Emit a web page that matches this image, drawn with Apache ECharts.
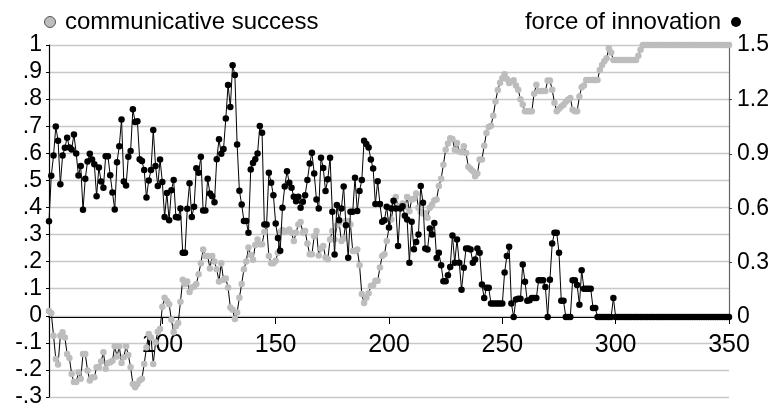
<!DOCTYPE html>
<html><head><meta charset="utf-8">
<script src="https://cdn.jsdelivr.net/npm/echarts@6/dist/echarts.min.js"></script>
<style>html,body{margin:0;padding:0;background:#fff}#c{width:774px;height:410px}</style>
</head><body><div id="c"></div>
<script>
const firstStep = 50;
const seriesNames = ['communicative success', 'force of innovation'];

// communicative success (left axis), steps 50..350
const successValues = [
  0.018, 0.009, -0.074, -0.16, -0.18, -0.074, -0.061, -0.08, -0.141, -0.156,
  -0.215, -0.245, -0.245, -0.209, -0.233, -0.141, -0.141, -0.202, -0.239, -0.227,
  -0.227, -0.19, -0.19, -0.169, -0.135, -0.196, -0.174, -0.172, -0.166, -0.113,
  -0.15, -0.113, -0.174, -0.153, -0.113, -0.145, -0.19, -0.252, -0.264, -0.252,
  -0.239, -0.233, -0.178, -0.117, -0.067, -0.08, -0.178, -0.098, -0.059, -0.049,
  0.033, 0.067, 0.055, 0.043, -0.015, -0.061, -0.039, -0.027, 0.052, 0.133,
  0.117, 0.127, 0.088, 0.104, 0.108, 0.117, 0.153, 0.194, 0.245, 0.221,
  0.221, 0.175, 0.221, 0.2, 0.172, 0.127, 0.194, 0.133, 0.138, 0.104,
  0.031, 0.022, -0.012, 0.012, 0.067, 0.117, 0.172, 0.2, 0.252, 0.224,
  0.207, 0.261, 0.282, 0.264, 0.264, 0.309, 0.334, 0.221, 0.194, 0.194,
  0.203, 0.233,
  0.309, 0.317, 0.309, 0.313, 0.319, 0.307, 0.276, 0.307, 0.337, 0.346,
  0.307, 0.313, 0.267, 0.227, 0.227, 0.294, 0.313, 0.223, 0.248, 0.258,
  0.215, 0.209, 0.282, 0.313, 0.282, 0.334, 0.344, 0.276, 0.285, 0.35,
  0.35, 0.337, 0.239, 0.239, 0.245, 0.187, 0.08, 0.047, 0.067, 0.083,
  0.11, 0.113, 0.129, 0.129, 0.178, 0.221, 0.227, 0.276, 0.325, 0.356,
  0.405, 0.439, 0.405, 0.405, 0.415, 0.402, 0.439, 0.386, 0.429, 0.432,
  0.452, 0.399, 0.383, 0.378, 0.38, 0.362, 0.399, 0.411, 0.427, 0.429,
  0.479, 0.506, 0.558, 0.613, 0.636, 0.656, 0.653, 0.613, 0.638, 0.607,
  0.604, 0.626, 0.601, 0.55, 0.542, 0.534, 0.515, 0.525, 0.577, 0.577,
  0.628, 0.675, 0.697, 0.702, 0.739, 0.791, 0.834, 0.861, 0.877, 0.892,
  0.874, 0.86, 0.865, 0.87, 0.85, 0.835, 0.8, 0.78, 0.755, 0.755,
  0.755, 0.755, 0.82, 0.853, 0.83, 0.83, 0.83, 0.83, 0.869, 0.869,
  0.835, 0.787, 0.755, 0.765, 0.773, 0.779, 0.79, 0.798, 0.804, 0.761,
  0.755, 0.755, 0.81, 0.844, 0.85, 0.871, 0.871, 0.871, 0.871, 0.871,
  0.871, 0.908, 0.926, 0.94, 0.951, 0.988, 0.972, 0.945, 0.945, 0.945,
  0.945, 0.945, 0.945, 0.945, 0.945, 0.945, 0.945, 0.945, 0.96, 0.982,
  1, 1, 1, 1, 1, 1, 1, 1, 1, 1,
  1, 1, 1, 1, 1, 1, 1, 1, 1, 1,
  1, 1, 1, 1, 1, 1, 1, 1, 1, 1,
  1, 1, 1, 1, 1, 1, 1, 1, 1
];

// force of innovation (right axis), steps 50..350
const innovationValues = [
  0.528, 0.779, 0.89, 1.05, 0.972, 0.732, 0.89, 0.933, 0.989, 0.935,
  0.924, 1.007, 0.902, 0.78, 0.833, 0.591, 0.762, 0.858, 0.9, 0.869,
  0.842, 0.666, 0.825, 0.747, 0.713, 0.887, 0.887, 0.782, 0.687, 0.593,
  0.854, 0.942, 1.089, 0.747, 0.725, 0.884, 0.915, 1.145, 1.076, 1.08,
  0.87, 0.86, 0.81, 0.659, 0.753, 0.81, 1.031, 0.833, 0.722, 0.869,
  0.744, 0.552, 0.684, 0.533, 0.699, 0.755, 0.551, 0.549, 0.599, 0.354,
  0.354, 0.597, 0.737, 0.552, 0.608, 0.821, 0.795, 0.884, 0.587, 0.587,
  0.762, 0.681, 0.666, 0.633, 0.87, 0.98, 0.9, 0.927, 1.094, 1.28,
  1.158, 1.389, 1.335, 0.951, 0.696, 0.621, 0.53, 0.53, 0.464, 0.813,
  0.849, 0.87, 0.902, 1.053, 1.016, 0.51, 0.51, 0.795, 0.741, 0.672,
  0.516, 0.435,
  0.365, 0.603, 0.719, 0.804, 0.74, 0.713, 0.663, 0.639, 0.663, 0.602,
  0.635, 0.672, 0.755, 0.846, 0.906, 0.792, 0.648, 0.599, 0.878, 0.822,
  0.695, 0.759, 0.878, 0.581, 0.344, 0.617, 0.534, 0.599, 0.719, 0.506,
  0.327, 0.581, 0.581, 0.768, 0.585, 0.695, 0.755, 0.972, 0.954, 0.935,
  0.869, 0.819, 0.623, 0.749, 0.623, 0.525, 0.534, 0.608, 0.494, 0.599,
  0.641, 0.599, 0.392, 0.599, 0.611, 0.558, 0.537, 0.299, 0.525, 0.374,
  0.414, 0.455, 0.723, 0.63, 0.378, 0.372, 0.488, 0.455, 0.519, 0.326,
  0.354, 0.285, 0.197, 0.197, 0.23, 0.276, 0.45, 0.299, 0.428, 0.299,
  0.15, 0.272, 0.378, 0.378, 0.372, 0.299, 0.317, 0.378, 0.354, 0.179,
  0.105, 0.161, 0.161,
  0.074, 0.074, 0.074, 0.074, 0.074, 0.074, 0.245, 0.336, 0.387, 0.074,
  0, 0.096, 0.1, 0.1, 0.29, 0.194, 0.089, 0.092, 0.105, 0.105,
  0.105, 0.203, 0.203, 0.203, 0.165, 0, 0.206, 0.405, 0.464, 0.464,
  0.354, 0.089, 0.089, 0, 0, 0, 0.203, 0.203, 0.176, 0.068,
  0.258, 0.156, 0.156, 0.156, 0.156, 0.05, 0.05, 0, 0, 0,
  0, 0, 0, 0, 0.105, 0, 0, 0, 0, 0,
  0, 0, 0, 0, 0, 0, 0, 0, 0, 0,
  0, 0, 0, 0, 0, 0, 0, 0, 0, 0,
  0, 0, 0, 0, 0, 0, 0, 0, 0, 0,
  0, 0, 0, 0, 0, 0, 0, 0, 0, 0,
  0, 0, 0, 0, 0, 0
];

const xTickLabels = ['100', '150', '200', '250', '300', '350'];
const leftTickLabels = ['-.3', '-.2', '-.1', '0', '.1', '.2', '.3', '.4', '.5', '.6', '.7', '.8', '.9', '1'];
const rightTickLabels = ['0', '0.3', '0.6', '0.9', '1.2', '1.5'];

const FONT = '"Liberation Sans", Arial, sans-serif';
const toPairs = arr => arr.map((v, i) => [firstStep + i, v]);

const chart = echarts.init(document.getElementById('c'), null, { renderer: 'canvas' });
chart.setOption({
  animation: false,
  backgroundColor: '#fff',
  grid: [
    { left: 49, right: 45, top: 45, bottom: 13, containLabel: false, outerBoundsMode: 'none' },
    { left: 49, right: 45, top: 45, bottom: 93, containLabel: false, outerBoundsMode: 'none' }
  ],
  legend: [
    {
      left: 39, top: 5, icon: 'circle', itemWidth: 20, itemHeight: 11,
      data: [{ name: seriesNames[0], itemStyle: { borderColor: '#555', borderWidth: 1 } }],
      textStyle: { fontSize: 24, color: '#000', fontFamily: FONT },
      selectedMode: false
    },
    {
      right: 28, top: 5, icon: 'circle', itemWidth: 20, itemHeight: 10, align: 'right',
      data: [seriesNames[1]],
      textStyle: { fontSize: 24, color: '#000', fontFamily: FONT },
      selectedMode: false
    }
  ],
  xAxis: [
    { gridIndex: 0, type: 'value', min: 50, max: 350, show: false },
    {
      gridIndex: 1, type: 'value', min: 50, max: 350, interval: 50, position: 'bottom',
      axisLine: { show: true, onZero: false, lineStyle: { color: '#000', width: 1.2 } },
      axisTick: { show: true, length: 7, lineStyle: { color: '#000' } },
      axisLabel: {
        formatter: v => xTickLabels.includes(String(v)) ? String(v) : '',
        fontSize: 25, color: '#000', margin: 16, fontFamily: FONT,
        showMinLabel: true, showMaxLabel: true, hideOverlap: false
      },
      splitLine: { show: false }
    }
  ],
  yAxis: [
    {
      gridIndex: 0, type: 'value', min: -0.3, max: 1, interval: 0.1,
      axisLine: { show: true, onZero: false, lineStyle: { color: '#000', width: 1.2 } },
      axisTick: { show: true, length: 3, lineStyle: { color: '#000' } },
      axisLabel: {
        formatter: v => leftTickLabels[Math.round((v + 0.3) * 10)],
        fontSize: 23, color: '#000', margin: 7, fontFamily: FONT,
        showMinLabel: true, showMaxLabel: true
      },
      splitLine: { show: true, lineStyle: { color: '#c8c8c8', width: 1.3 } }
    },
    {
      gridIndex: 1, type: 'value', position: 'right', min: 0, max: 1.5, interval: 0.3,
      axisLine: { show: true, onZero: false, lineStyle: { color: '#666', width: 1.2 } },
      axisTick: { show: true, length: 3, lineStyle: { color: '#444' } },
      axisLabel: {
        formatter: v => rightTickLabels[Math.round(v / 0.3)],
        fontSize: 23, color: '#000', margin: 8, fontFamily: FONT,
        showMinLabel: true, showMaxLabel: true
      },
      splitLine: { show: false }
    }
  ],
  series: [
    {
      name: seriesNames[0], type: 'line', xAxisIndex: 0, yAxisIndex: 0,
      data: toPairs(successValues),
      symbol: 'circle', symbolSize: 6.5, showSymbol: true, showAllSymbol: true,
      lineStyle: { color: '#000', width: 1 },
      itemStyle: { color: '#bdbdbd' },
      clip: false, z: 2, silent: true
    },
    {
      name: seriesNames[1], type: 'line', xAxisIndex: 1, yAxisIndex: 1,
      data: toPairs(innovationValues),
      symbol: 'circle', symbolSize: 6.5, showSymbol: true, showAllSymbol: true,
      lineStyle: { color: '#000', width: 1 },
      itemStyle: { color: '#000' },
      clip: false, z: 3, silent: true
    }
  ]
});
</script>
</body></html>
